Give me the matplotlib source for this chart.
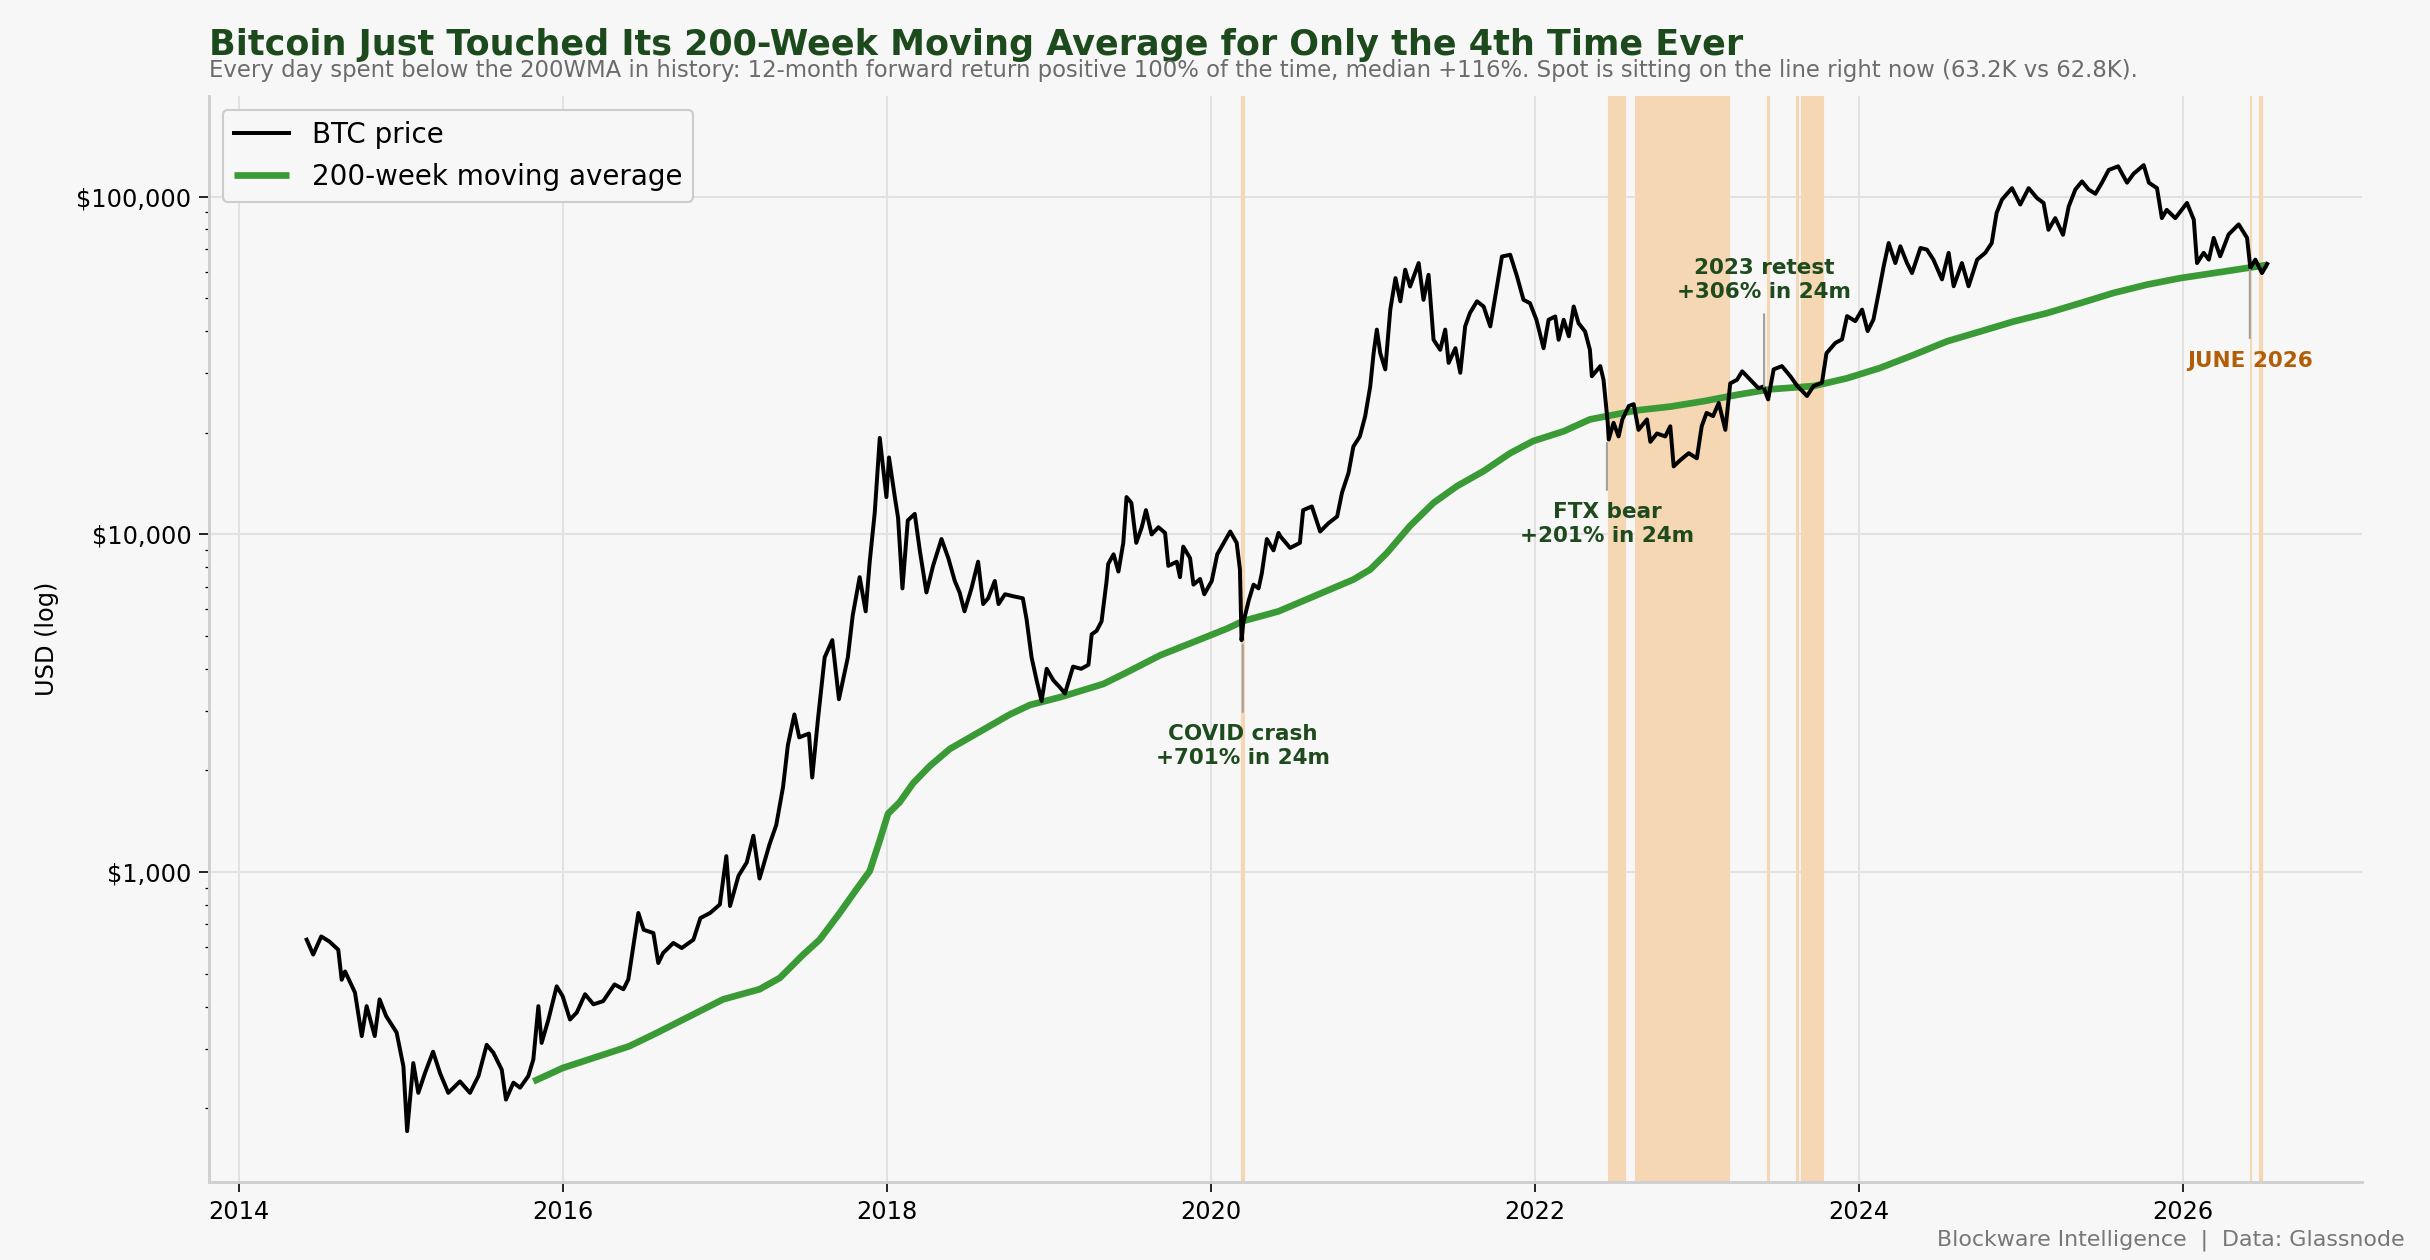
import matplotlib.pyplot as plt
from matplotlib.ticker import FuncFormatter, NullFormatter

plt.rcParams['font.family'] = ['DejaVu Sans']

# BTC price (decimal year, USD)
yrs = [2014.42, 2014.46, 2014.51, 2014.56, 2014.615, 2014.636, 2014.657, 2014.718, 2014.76, 2014.79,
       2014.84, 2014.87, 2014.91, 2014.975, 2015.017, 2015.04, 2015.078, 2015.109, 2015.15, 2015.2,
       2015.243, 2015.294, 2015.366, 2015.428, 2015.48, 2015.531, 2015.572, 2015.624, 2015.65, 2015.696,
       2015.737, 2015.788, 2015.819, 2015.85, 2015.87, 2015.912, 2015.963, 2016.0, 2016.045, 2016.087,
       2016.138, 2016.19, 2016.25, 2016.32, 2016.375, 2016.405, 2016.436, 2016.467, 2016.5, 2016.56,
       2016.59, 2016.62, 2016.683, 2016.735, 2016.807, 2016.85, 2016.91, 2016.97, 2017.01, 2017.033,
       2017.085, 2017.136, 2017.177, 2017.215, 2017.277, 2017.318, 2017.36, 2017.39, 2017.43, 2017.46,
       2017.52, 2017.54, 2017.576, 2017.617, 2017.664, 2017.705, 2017.76, 2017.79, 2017.833, 2017.87,
       2017.895, 2017.926, 2017.957, 2017.998, 2018.014, 2018.05, 2018.07, 2018.097, 2018.13, 2018.173,
       2018.204, 2018.245, 2018.286, 2018.338, 2018.38, 2018.42, 2018.45, 2018.48, 2018.523, 2018.564,
       2018.595, 2018.626, 2018.667, 2018.69, 2018.73, 2018.78, 2018.84, 2018.863, 2018.894, 2018.925,
       2018.956, 2018.987, 2019.028, 2019.07, 2019.1, 2019.15, 2019.2, 2019.245, 2019.265, 2019.295,
       2019.326, 2019.357, 2019.367, 2019.4, 2019.43, 2019.46, 2019.48, 2019.51, 2019.54, 2019.574,
       2019.6, 2019.635, 2019.677, 2019.718, 2019.738, 2019.79, 2019.81, 2019.83, 2019.872, 2019.893,
       2019.934, 2019.96, 2020.006, 2020.04, 2020.087, 2020.12, 2020.16, 2020.18, 2020.19, 2020.2,
       2020.235, 2020.264, 2020.295, 2020.315, 2020.346, 2020.387, 2020.418, 2020.43, 2020.49, 2020.55,
       2020.57, 2020.624, 2020.675, 2020.727, 2020.78, 2020.81, 2020.85, 2020.88, 2020.92, 2020.953,
       2020.984, 2021.005, 2021.025, 2021.046, 2021.077, 2021.108, 2021.14, 2021.17, 2021.2, 2021.23,
       2021.283, 2021.313, 2021.344, 2021.375, 2021.416, 2021.447, 2021.468, 2021.51, 2021.54, 2021.57,
       2021.6, 2021.643, 2021.684, 2021.725, 2021.766, 2021.797, 2021.848, 2021.89, 2021.93, 2021.97,
       2022.01, 2022.054, 2022.085, 2022.126, 2022.147, 2022.178, 2022.21, 2022.24, 2022.27, 2022.31,
       2022.34, 2022.352, 2022.404, 2022.424, 2022.45, 2022.456, 2022.486, 2022.517, 2022.54, 2022.58,
       2022.61, 2022.64, 2022.692, 2022.713, 2022.754, 2022.805, 2022.836, 2022.857, 2022.898, 2022.95,
       2023.0, 2023.03, 2023.06, 2023.1, 2023.135, 2023.176, 2023.206, 2023.248, 2023.28, 2023.33,
       2023.38, 2023.41, 2023.44, 2023.474, 2023.525, 2023.577, 2023.62, 2023.68, 2023.72, 2023.772,
       2023.8, 2023.855, 2023.896, 2023.927, 2023.978, 2024.02, 2024.054, 2024.09, 2024.122, 2024.153,
       2024.184, 2024.225, 2024.256, 2024.297, 2024.328, 2024.38, 2024.42, 2024.46, 2024.513, 2024.554,
       2024.585, 2024.636, 2024.677, 2024.73, 2024.78, 2024.82, 2024.85, 2024.883, 2024.945, 2024.996,
       2025.048, 2025.1, 2025.14, 2025.17, 2025.212, 2025.26, 2025.295, 2025.336, 2025.377, 2025.418,
       2025.46, 2025.5, 2025.542, 2025.6, 2025.655, 2025.696, 2025.758, 2025.79, 2025.84, 2025.87,
       2025.9, 2025.953, 2026.025, 2026.067, 2026.087, 2026.128, 2026.16, 2026.19, 2026.23, 2026.282,
       2026.344, 2026.396, 2026.416, 2026.447, 2026.488, 2026.52]
btc = [631, 570, 645, 623, 589, 480, 508, 440, 327, 401,
       327, 420, 375, 335, 266, 171, 272, 222, 254, 294,
       254, 222, 240, 222, 249, 308, 292, 260, 212, 238,
       230, 249, 279, 401, 312, 366, 459, 429, 366, 384,
       435, 406, 415, 465, 450, 481, 603, 757, 675, 660,
       538, 576, 617, 596, 631, 731, 757, 802, 1115, 794,
       975, 1068, 1282, 957, 1210, 1378, 1786, 2378, 2930, 2506,
       2572, 1906, 2851, 4325, 4864, 3251, 4325, 5754, 7470, 5918,
       8300, 11600, 19300, 12900, 16900, 12900, 11200, 6920, 11000, 11500,
       8970, 6730, 8070, 9690, 8510, 7280, 6730, 5918, 6920, 8300,
       6220, 6470, 7280, 6220, 6650, 6560, 6470, 5610, 4325, 3700,
       3210, 4000, 3700, 3520, 3380, 4060, 4000, 4110, 5060, 5180,
       5530, 7280, 8180, 8730, 7760, 9440, 12900, 12400, 9440, 10500,
       11800, 10000, 10500, 10100, 8070, 8300, 7470, 9200, 8510, 7100,
       7380, 6650, 7280, 8730, 9570, 10200, 9440, 7870, 4860, 5460,
       6400, 7100, 6920, 7670, 9690, 8970, 10100, 9860, 9120, 9440,
       11800, 12100, 10200, 10800, 11300, 13300, 15200, 18200, 19500, 22400,
       27400, 34400, 40400, 34400, 30800, 46300, 57400, 49000, 60800, 54200,
       63600, 49500, 58700, 37700, 35200, 40400, 32200, 35600, 30100, 41300,
       45300, 49000, 47300, 41300, 54200, 66500, 67300, 58100, 49500, 48400,
       43200, 35600, 43200, 44200, 37700, 43200, 38600, 47300, 42200, 39900,
       35200, 29400, 31500, 28700, 21400, 19100, 21400, 19500, 21900, 24000,
       24300, 20400, 21900, 18800, 19900, 19500, 20900, 15900, 16600, 17400,
       16800, 20900, 22900, 22400, 24500, 20400, 28000, 28700, 30400, 28700,
       27100, 27400, 25100, 30800, 31500, 29400, 27500, 25700, 27500, 28100,
       34400, 36900, 37800, 44300, 42800, 46300, 40000, 43300, 51900, 62200,
       72900, 63600, 71300, 63600, 59400, 70500, 69700, 65100, 56900, 68200,
       54300, 63600, 54300, 65100, 68200, 72900, 89500, 98000, 106000, 94800,
       106000, 99000, 95800, 79800, 86400, 77100, 93500, 105000, 111000, 105000,
       102000, 110000, 120000, 123000, 110000, 117000, 124000, 110000, 106000, 86400,
       91400, 86400, 95800, 85500, 63600, 68200, 65100, 75500, 66600, 77300,
       82800, 75500, 61500, 65100, 59400, 63200]

# 200-week moving average
ma_yrs = [2015.819, 2016.0, 2016.41, 2016.58, 2016.99, 2017.215, 2017.34, 2017.483, 2017.586, 2017.71,
          2017.81, 2017.895, 2017.957, 2018.008, 2018.08, 2018.163, 2018.266, 2018.39, 2018.575, 2018.76,
          2018.884, 2019.07, 2019.337, 2019.48, 2019.687, 2019.893, 2020.1, 2020.2, 2020.418, 2020.88,
          2020.984, 2021.087, 2021.23, 2021.375, 2021.52, 2021.684, 2021.848, 2021.99, 2022.178, 2022.34,
          2022.445, 2022.63, 2022.836, 2023.042, 2023.248, 2023.453, 2023.72, 2023.927, 2024.13, 2024.338,
          2024.544, 2024.75, 2024.955, 2025.16, 2025.367, 2025.573, 2025.778, 2025.984, 2026.19, 2026.396,
          2026.52]
ma200 = [240, 263, 305, 334, 420, 450, 486, 569, 631, 757,
         885, 1007, 1241, 1489, 1611, 1834, 2062, 2317, 2606, 2930,
         3126, 3296, 3607, 3900, 4385, 4800, 5260, 5540, 5918, 7350,
         7870, 8810, 10600, 12400, 13900, 15400, 17400, 18900, 20200, 21900,
         22400, 23300, 23900, 24800, 25900, 26900, 27500, 29000, 31100, 34000,
         37300, 39900, 42700, 45200, 48400, 51900, 54900, 57400, 59400, 61500,
         62800]

# periods with price below the 200WMA (start, end)
below_start = [2020.194, 2022.455, 2022.550, 2022.626, 2023.441, 2023.618, 2023.647, 2026.418, 2026.476]
below_end = [2020.206, 2022.537, 2022.554, 2023.196, 2023.445, 2023.622, 2023.776, 2026.421, 2026.487]

# annotations: x, line end (price side), text centre, label, colour
note_x = [2020.197, 2022.445, 2023.415, 2026.413]
note_y = [4720, 18700, 27400, 60800]
note_ty = [2355, 10700, 56800, 32700]
note_txt = ['COVID crash\n+701% in 24m', 'FTX bear\n+201% in 24m', '2023 retest\n+306% in 24m', 'JUNE 2026']
note_col = ['#1e4a1e', '#1e4a1e', '#1e4a1e', '#b25e06']

BG = '#f7f7f7'
fig = plt.figure(figsize=(16.2, 8.4), dpi=150, facecolor=BG)
ax = fig.add_axes([0.086, 0.062, 0.886, 0.862])
ax.set_facecolor(BG)

for a, b in zip(below_start, below_end):
    ax.axvspan(a, b, facecolor='#f5d7b3', edgecolor='#f5d7b3', lw=1.0, zorder=1)

ax.plot(ma_yrs, ma200, color='#3a9a35', lw=3.2, label='200-week moving average', zorder=3, solid_capstyle='butt')
ax.plot(yrs, btc, color='black', lw=1.9, label='BTC price', zorder=4)

for x, y, ty, t, c in zip(note_x, note_y, note_ty, note_txt, note_col):
    ax.annotate(t, xy=(x, y), xytext=(x, ty), ha='center', va='center', fontsize=10.3,
                fontweight='bold', color=c, zorder=5, linespacing=1.25,
                arrowprops=dict(arrowstyle='-', color='#a0a0a0', lw=1.0, shrinkA=4, shrinkB=0))

ax.set_yscale('log')
ax.set_ylim(121, 199000)
ax.set_xlim(2013.817, 2027.105)
ax.set_xticks(range(2014, 2027, 2))
ax.yaxis.set_major_formatter(FuncFormatter(lambda v, p: f'${v:,.0f}'))
ax.yaxis.set_minor_formatter(NullFormatter())
ax.set_ylabel('USD (log)', fontsize=11.5, labelpad=8)

ax.grid(True, which='major', color='#e2e2e2', lw=1.0)
ax.set_axisbelow(True)
for s in ['top', 'right']:
    ax.spines[s].set_visible(False)
for s in ['left', 'bottom']:
    ax.spines[s].set_color('#d0d0d0')
    ax.spines[s].set_linewidth(1.4)
ax.tick_params(labelsize=11.5, length=5)

h, l = ax.get_legend_handles_labels()
ax.legend(h[::-1], l[::-1], loc='upper left', fontsize=13.3, facecolor=BG, edgecolor='#cccccc', framealpha=1)

fig.text(0.086, 0.964, 'Bitcoin Just Touched Its 200-Week Moving Average for Only the 4th Time Ever',
         fontsize=16.8, fontweight='bold', color='#1d4a1d', va='center')
fig.text(0.086, 0.9437, 'Every day spent below the 200WMA in history: 12-month forward return positive 100% of the time, '
         'median +116%. Spot is sitting on the line right now (63.2K vs 62.8K).',
         fontsize=10.9, color='#6b6b6b', va='center')
fig.text(0.9897, 0.016, 'Blockware Intelligence  |  Data: Glassnode', ha='right', va='center',
         fontsize=10.6, color='#777777')

fig.savefig('out.png', dpi=150, facecolor=BG)
